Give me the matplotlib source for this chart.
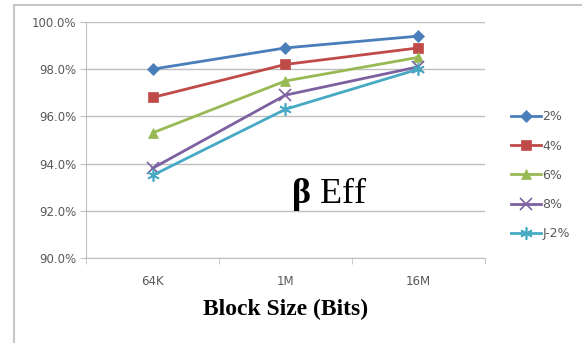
import matplotlib.pyplot as plt
from matplotlib.lines import Line2D
from matplotlib.ticker import FuncFormatter

plt.rcParams['mathtext.fontset'] = 'custom'
plt.rcParams['mathtext.rm'] = 'Liberation Serif'
plt.rcParams['mathtext.bf'] = 'Liberation Serif:bold'

block_sizes = ['64K', '1M', '16M']
series_names = ['2%', '4%', '6%', '8%', 'J-2%']
eff_2 = [98.0, 98.9, 99.4]
eff_4 = [96.8, 98.2, 98.9]
eff_6 = [95.3, 97.5, 98.5]
eff_8 = [93.8, 96.9, 98.1]
eff_j2 = [93.5, 96.3, 98.0]

colors = ['#4A7EBB', '#BE4B48', '#98B954', '#7D60A0', '#46AAC5']
markers = ['D', 's', '^', 'x', (6, 2, 0)]
sizes = [6, 7, 7, 8, 9]

fig = plt.figure(figsize=(5.82, 3.43), dpi=100)
ax = fig.add_axes([0.148, 0.248, 0.685, 0.688])

x = range(len(block_sizes))
for vals, name, c, m, s in zip([eff_2, eff_4, eff_6, eff_8, eff_j2], series_names, colors, markers, sizes):
    ax.plot(x, vals, color=c, marker=m, markersize=s, linewidth=2, label=name,
            markeredgewidth=1.2 if m in ('x', (6, 2, 0)) else 0.5, markeredgecolor=c)

ax.set_xlim(-0.5, 2.5)
ax.set_ylim(90, 100)
ax.set_yticks([90, 92, 94, 96, 98, 100])
ax.yaxis.set_major_formatter(FuncFormatter(lambda v, p: '%.1f%%' % v))
ax.set_xticks(list(x))
ax.set_xticklabels(block_sizes)
ax.set_xticks([-0.5, 0.5, 1.5, 2.5], minor=True)
ax.tick_params(axis='x', which='major', length=0, pad=12, labelsize=8.5, labelcolor='#595959')
ax.tick_params(axis='x', which='minor', length=4, color='#BFBFBF')
ax.tick_params(axis='y', length=4, color='#BFBFBF', labelsize=8.5, labelcolor='#595959', pad=3)
ax.grid(axis='y', color='#BFBFBF', linewidth=1)
ax.set_axisbelow(True)
for sp in ['top', 'right']:
    ax.spines[sp].set_visible(False)
for sp in ['left', 'bottom']:
    ax.spines[sp].set_color('#BFBFBF')

ax.set_xlabel('Block Size (Bits)', family='Liberation Serif', fontweight='bold', fontsize=17, labelpad=8)
ax.text(0.61, 0.27, r'$\mathbf{\beta}$ Eff', transform=ax.transAxes, ha='center', va='center',
        family='Liberation Serif', fontsize=26)

leg = ax.legend(loc='center left', bbox_to_anchor=(1.05, 0.35), frameon=False, fontsize=9,
                handlelength=2.4, handletextpad=0.1, labelspacing=1.3, borderpad=0)
for t in leg.get_texts():
    t.set_color('#595959')

fig.add_artist(Line2D([14 / 582, 14 / 582], [0, 1 - 5 / 343], color='#C8C8C8', linewidth=1.5, transform=fig.transFigure))
fig.add_artist(Line2D([14 / 582, 1], [1 - 5 / 343, 1 - 5 / 343], color='#C8C8C8', linewidth=1.5, transform=fig.transFigure))

fig.savefig('out.png', dpi=100)
